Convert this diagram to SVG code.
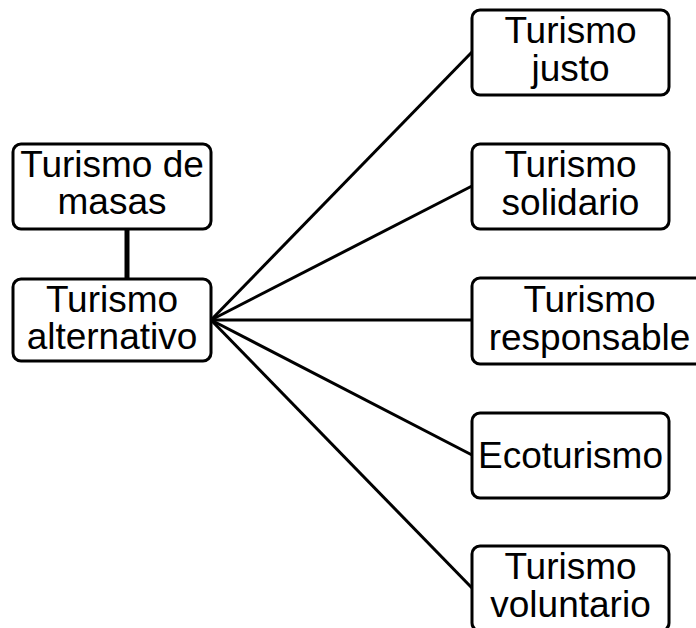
<svg xmlns="http://www.w3.org/2000/svg" width="696" height="628" viewBox="0 0 696 628">
<style>
.box{fill:#fff;stroke:#000;stroke-width:3}
.t{font-family:"Liberation Sans",Arial,sans-serif;font-size:37px;fill:#000;text-anchor:middle}
.c{stroke:#000;stroke-width:3;fill:none}
</style>
<rect width="696" height="628" fill="#fff"/>
<g id="connectors">
<line class="c" x1="127" y1="229" x2="127" y2="279" style="stroke-width:5"/>
<line class="c" x1="211" y1="320" x2="472" y2="52"/>
<line class="c" x1="211" y1="320" x2="472" y2="186"/>
<line class="c" x1="211" y1="320" x2="472" y2="320"/>
<line class="c" x1="211" y1="320" x2="472" y2="455"/>
<line class="c" x1="211" y1="320" x2="472" y2="588"/>
</g>
<g id="masas">
<rect class="box" x="13" y="144" width="198" height="85" rx="8"/>
<text class="t" x="112" y="177">Turismo de</text>
<text class="t" x="112" y="214">masas</text>
</g>
<g id="alternativo">
<rect class="box" x="13" y="279" width="198" height="82" rx="8"/>
<text class="t" x="112" y="312">Turismo</text>
<text class="t" x="112" y="349">alternativo</text>
</g>
<g id="justo">
<rect class="box" x="472" y="10" width="197" height="85" rx="8"/>
<text class="t" x="570.5" y="42.5">Turismo</text>
<text class="t" x="570.5" y="80.5">justo</text>
</g>
<g id="solidario">
<rect class="box" x="472" y="144" width="197" height="85" rx="8"/>
<text class="t" x="570.5" y="176.5">Turismo</text>
<text class="t" x="570.5" y="214.5">solidario</text>
</g>
<g id="responsable">
<rect class="box" x="472" y="278" width="235" height="86" rx="8"/>
<text class="t" x="589.5" y="311.5">Turismo</text>
<text class="t" x="589.5" y="349.5">responsable</text>
</g>
<g id="ecoturismo">
<rect class="box" x="472" y="413" width="197" height="85" rx="8"/>
<text class="t" x="570.5" y="467.5">Ecoturismo</text>
</g>
<g id="voluntario">
<rect class="box" x="472" y="546" width="197" height="85" rx="8"/>
<text class="t" x="570.5" y="579">Turismo</text>
<text class="t" x="570.5" y="617">voluntario</text>
</g>
</svg>
